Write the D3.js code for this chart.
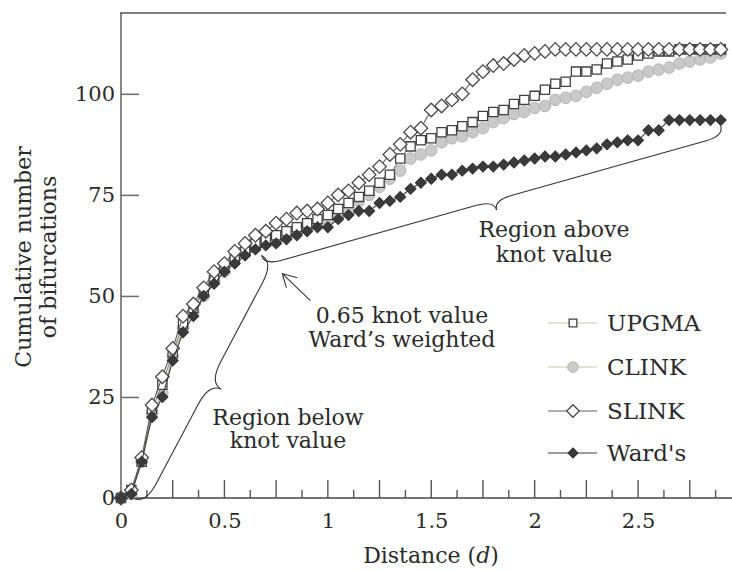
<!DOCTYPE html>
<html>
<head>
<meta charset="utf-8">
<script src="https://cdn.jsdelivr.net/npm/d3@7"></script>
<style>
  html, body { margin: 0; padding: 0; background: #fff; }
  svg { display: block; }
  text { font-family: "DejaVu Serif", "Liberation Serif", serif; fill: #2a2a2a; }
</style>
</head>
<body>
<svg id="chart" width="732" height="571"></svg>
<script>
// ---------------- data ----------------
const distance = [0,0.05,0.1,0.15,0.2,0.25,0.3,0.35,0.4,0.45,0.5,0.55,0.6,0.65,0.7,0.75,0.8,0.85,0.9,0.95,
  1,1.05,1.1,1.15,1.2,1.25,1.3,1.35,1.4,1.45,1.5,1.55,1.6,1.65,1.7,1.75,1.8,1.85,1.9,1.95,
  2,2.05,2.1,2.15,2.2,2.25,2.3,2.35,2.4,2.45,2.5,2.55,2.6,2.65,2.7,2.75,2.8,2.85,2.9];

const upgma = [0,2,9,22,28,36,43,47,51,54,57,59,61,63,64,65,66,67,68,69,
  70,71.5,73,74.5,76,78,80,84,87,88.5,89,90.5,91,92,93,94.5,95.5,96,97.5,98.5,
  99.5,101,102.5,103,105.5,105.5,106,107.5,108,108.5,109.5,110,110.5,110.5,111,111,111,111,111];

const clink = [0,1,9,21,26,35,42,46,50,54,56,59,61,62.5,63.5,64.5,65.5,66.5,67.5,68,
  69,70.5,72,73.5,75,77,79,81,84,85,86,88,89,89.5,90.5,91.5,93,94,95,95.5,
  96.5,97,98.5,99,99.5,100.5,101.5,102.5,103.5,104,104.5,105.5,106,106.5,107.5,108,108.5,109,110];

const slink = [0,2,10,23,30,37,45,48,52,56,58,61,63,65,66,68,69,70.5,71,71.5,
  73,75,76,78,80,82,85,87.5,90.5,91.5,96,97,98.5,100,103.5,105.5,107,107.5,108.5,109.5,
  110,110.5,111,111,111,111,111,111,111,111,111,111,111,111,111,111,111,111,111];

const wards = [0,1,9,20,25,34,41,45,50,53,56,58,60,61.5,62.5,63,64,65,66,67,
  67,69,70,71,71,73,73.5,74.5,76.5,78,79,80,80,81,81.5,82,82,82.5,83,83.5,
  84,84.5,84.5,85,85.5,86,86.5,87.5,88,88.5,88.5,91,91,93.5,93.5,93.5,93.5,93.5,93.5];

const seriesNames = ["UPGMA", "CLINK", "SLINK", "Ward's"];
const xTickLabels = [0, 0.5, 1, 1.5, 2, 2.5];
const xMajorTicks = [0.25,0.5,0.75,1,1.25,1.5,1.75,2,2.25,2.5,2.75];
const xMinorTicks = [0.125,0.375,0.625,0.875,1.125,1.375,1.625,1.875,2.125,2.375,2.625,2.875];
const yTickLabels = [0, 25, 50, 75, 100];
const knotValue = 0.65;
const yTitle = ["Cumulative number", "of bifurcations"];
const aboveLabel = ["Region above", "knot value"];
const belowLabel = ["Region below", "knot value"];
const knotLabel = ["0.65 knot value", "Ward\u2019s weighted"];

// ---------------- layout ----------------
const svg = d3.select("#chart");
const x = d3.scaleLinear().domain([0, 2.93]).range([121, 727]);
const y = d3.scaleLinear().domain([0, 120]).range([498, 13]);
const axisCol = "#6a6a6a";

// frame
svg.append("line").attr("x1", 121).attr("x2", 121).attr("y1", 13).attr("y2", 498)
  .attr("stroke", axisCol).attr("stroke-width", 1.6);
svg.append("line").attr("x1", 120).attr("x2", 726).attr("y1", 13).attr("y2", 13)
  .attr("stroke", "#555").attr("stroke-width", 1.6);
svg.append("line").attr("x1", 120).attr("x2", 732).attr("y1", 498).attr("y2", 498)
  .attr("stroke", "#444").attr("stroke-width", 1.6);

// y axis
const yAxis = d3.axisLeft(y).tickValues(yTickLabels).tickSizeInner(-18).tickSizeOuter(0).tickPadding(6)
  .tickFormat(d3.format("d"));
const gy = svg.append("g").attr("transform", "translate(121,0)").call(yAxis);
gy.select(".domain").remove();
gy.selectAll(".tick line").attr("stroke", axisCol).attr("stroke-width", 1.5)
  .filter(d => d === 0).remove();
gy.selectAll(".tick text").attr("font-size", 21).attr("fill", "#2a2a2a")
  .attr("font-family", "DejaVu Serif");

// x axis labels
const xAxis = d3.axisBottom(x).tickValues(xTickLabels).tickSize(0).tickPadding(15)
  .tickFormat(d => String(d));
const gx = svg.append("g").attr("transform", "translate(0,498)").call(xAxis);
gx.select(".domain").remove();
gx.selectAll(".tick text").attr("font-size", 21).attr("fill", "#2a2a2a")
  .attr("font-family", "DejaVu Serif");

// x ticks (pointing up)
svg.append("g").selectAll("line").data(xMajorTicks).join("line")
  .attr("x1", d => x(d)).attr("x2", d => x(d)).attr("y1", 498).attr("y2", 480)
  .attr("stroke", "#555").attr("stroke-width", 1.4);
svg.append("g").selectAll("line").data(xMinorTicks).join("line")
  .attr("x1", d => x(d)).attr("x2", d => x(d)).attr("y1", 498).attr("y2", 490)
  .attr("stroke", "#555").attr("stroke-width", 1.4);

// axis titles
const xt = svg.append("text").attr("x", 431).attr("y", 563).attr("text-anchor", "middle")
  .attr("font-size", 22);
xt.append("tspan").text("Distance (");
xt.append("tspan").attr("font-style", "italic").text("d");
xt.append("tspan").text(")");

svg.append("g").attr("transform", "translate(31,257) rotate(-90)")
  .selectAll("text").data(yTitle).join("text")
  .attr("x", 0).attr("y", (d, i) => i * 25).attr("text-anchor", "middle")
  .attr("font-size", 22).text(d => d);

// ---------------- series ----------------
const styles = {
  "UPGMA": { values: upgma, line: "#8f8d78", shape: "square", size: 85, fill: "#fff", stroke: "#404040", sw: 1.3 },
  "CLINK": { values: clink, line: "#bcbdaa", shape: "circle", size: 105, fill: "#c9c9c9", stroke: "#b4b4b4", sw: 1 },
  "SLINK": { values: slink, line: "#606060", shape: "diamond", size: 92, fill: "#fff", stroke: "#4a4a4a", sw: 1.3 },
  "Ward's": { values: wards, line: "#3a3a3a", shape: "diamond", size: 60, fill: "#3a3a3a", stroke: "#333", sw: 1 }
};
function symbolPath(s) {
  const t = s.shape === "circle" ? d3.symbolCircle : d3.symbolSquare;
  return d3.symbol().type(t).size(s.size)();
}
const drawOrder = ["CLINK", "UPGMA", "SLINK", "Ward's"];
const lineGen = vals => d3.line().x((d, i) => x(distance[i])).y(d => y(d))(vals);

drawOrder.forEach(name => {
  const s = styles[name];
  const g = svg.append("g");
  g.append("path").attr("d", lineGen(s.values)).attr("fill", "none")
    .attr("stroke", s.line).attr("stroke-width", 1.1);
  g.selectAll("path.m").data(s.values).join("path").attr("class", "m")
    .attr("d", symbolPath(s))
    .attr("transform", (d, i) => `translate(${x(distance[i])},${y(d)})` + (s.shape === "diamond" ? " rotate(45)" : ""))
    .attr("fill", s.fill).attr("stroke", s.stroke).attr("stroke-width", s.sw);
});

// ---------------- legend ----------------
const legY = [323, 367, 411, 453];
seriesNames.forEach((name, i) => {
  const s = styles[name];
  const g = svg.append("g").attr("transform", `translate(0,${legY[i]})`);
  g.append("line").attr("x1", 548).attr("x2", 597).attr("y1", 0).attr("y2", 0)
    .attr("stroke", i < 2 ? "#c9c7a8" : s.line).attr("stroke-width", 1.1);
  g.append("path").attr("d", d3.symbol().type(s.shape === "circle" ? d3.symbolCircle : d3.symbolSquare)
      .size(s.size * (i === 0 ? 0.7 : 0.85))())
    .attr("transform", "translate(573,0)" + (s.shape === "diamond" ? " rotate(45)" : ""))
    .attr("fill", s.fill).attr("stroke", s.stroke).attr("stroke-width", s.sw);
  g.append("text").attr("x", 607).attr("y", 8).attr("font-size", 23).text(name);
});

// ---------------- braces & annotations ----------------
function bracePath(x1, y1, x2, y2, d) {
  const len = Math.hypot(x2 - x1, y2 - y1);
  const tx = (x2 - x1) / len, ty = (y2 - y1) / len;
  const nx = -ty, ny = tx;
  const h = d / 2, r = d * 0.9;
  const mx = (x1 + x2) / 2, my = (y1 + y2) / 2;
  const P = (bx, by, t, n) => [bx + tx * t + nx * n, by + ty * t + ny * n];
  const a1 = P(x1, y1, 0, h), a2 = P(x1, y1, r, h);
  const b1 = P(mx, my, -r, h), c1 = P(mx, my, 0, h), cusp = P(mx, my, 0, d);
  const b2 = P(mx, my, r, h);
  const e1 = P(x2, y2, -r, h), e2 = P(x2, y2, 0, h);
  return `M${x1},${y1} Q${a1} ${a2} L${b1} Q${c1} ${cusp} Q${c1} ${b2} L${e1} Q${e2} ${x2},${y2}`;
}
const knotX = x(knotValue + 0.03), knotY = y(60);
svg.append("path").attr("d", bracePath(knotX, knotY, x(2.9), y(92), 20))
  .attr("fill", "none").attr("stroke", "#333").attr("stroke-width", 1.1);
svg.append("path").attr("d", bracePath(x(0.06), y(0), knotX, knotY, 27))
  .attr("fill", "none").attr("stroke", "#333").attr("stroke-width", 1.1);

// arrow to knot
const ax = x(knotValue + 0.13), ay = y(55.5);
svg.append("line").attr("x1", ax + 28).attr("y1", ay + 27).attr("x2", ax).attr("y2", ay)
  .attr("stroke", "#333").attr("stroke-width", 1.1);
svg.append("path").attr("d", `M${ax + 15},${ay + 4} L${ax},${ay} L${ax + 4},${ay + 14}`)
  .attr("fill", "none").attr("stroke", "#333").attr("stroke-width", 1.1);

function labelBlock(lines, cx, y0, dy) {
  svg.append("g").selectAll("text").data(lines).join("text")
    .attr("x", cx).attr("y", (d, i) => y0 + i * dy).attr("text-anchor", "middle")
    .attr("font-size", 22).text(d => d);
}
labelBlock(aboveLabel, 554, 237, 25);
labelBlock(knotLabel, 402, 323, 24);
labelBlock(belowLabel, 288, 425, 23);
</script>
</body>
</html>
